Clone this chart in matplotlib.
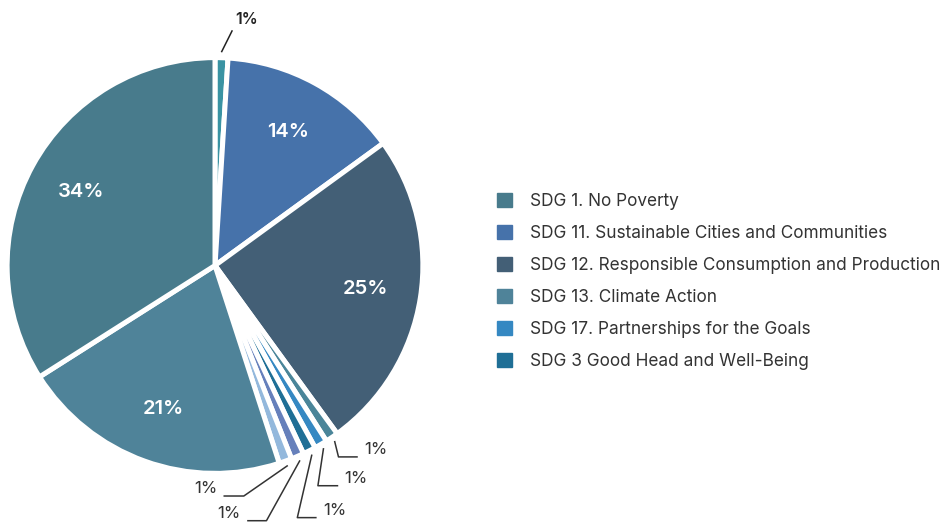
import numpy as np
import matplotlib.pyplot as plt

plt.rcParams['font.family'] = ['Inter', 'DejaVu Sans']

# slices, clockwise from the top
values = [1, 14, 25, 1, 1, 1, 1, 1, 21, 34]
colors = ['#3A93A3', '#4672AA', '#435F76', '#4A8599', '#3588C2',
          '#1F6F96', '#6680BB', '#93B8DC', '#4F8399', '#487B8C']

# legend entries and the slice each one refers to
legend_labels = ['SDG 1. No Poverty',
                 'SDG 11. Sustainable Cities and Communities',
                 'SDG 12. Responsible Consumption and Production',
                 'SDG 13. Climate Action',
                 'SDG 17. Partnerships for the Goals',
                 'SDG 3 Good Head and Well-Being']
legend_slices = [9, 1, 2, 8, 4, 5]

fig = plt.figure(figsize=(9.4, 5.31), dpi=100)
ax = fig.add_axes([-50 / 940, 0, 530 / 940, 1])

wedges, _ = ax.pie(values, colors=colors, startangle=90, counterclock=False,
                   radius=1.01,
                   wedgeprops=dict(edgecolor='white', linewidth=3.6))
ax.set_xlim(-1.287, 1.287)
ax.set_ylim(-1.29, 1.29)
ax.axis('off')


def mid_angle(w):
    return np.deg2rad((w.theta1 + w.theta2) / 2)


# percentages inside the big slices
for w, v in zip(wedges, values):
    if v < 5:
        continue
    a = mid_angle(w)
    ax.text(0.74 * np.cos(a), 0.74 * np.sin(a), f'{v}%', color='white',
            fontsize=14.5, fontweight='semibold', ha='center', va='center')

# top small slice
a = mid_angle(wedges[0])
x0, y0 = 1.04 * np.cos(a), 1.04 * np.sin(a)
ax.plot([x0, x0 + 0.05], [y0, y0 + 0.1], color='#222222', lw=1.1,
        clip_on=False)
ax.text(x0 + 0.065, y0 + 0.155, f'{values[0]}%', fontsize=11.5,
        fontweight='semibold', color='#222222', ha='left', va='center')

# leaders for the small slices at the bottom: (elbow, length of the tick)
leaders = [((0.600, -0.930), 0.09),
           ((0.500, -1.070), 0.095),
           ((0.400, -1.225), 0.09),
           ((0.250, -1.240), -0.09),
           ((0.140, -1.120), -0.095)]
for w, v, ((ex, ey), dx) in zip(wedges[3:8], values[3:8], leaders):
    a = mid_angle(w)
    x0, y0 = 1.035 * np.cos(a), 1.035 * np.sin(a)
    ax.plot([x0, ex, ex + dx], [y0, ey, ey], color='#333333', lw=1.1,
            clip_on=False)
    ha = 'left' if dx > 0 else 'right'
    ax.text(ex + dx + (0.035 if dx > 0 else -0.035), ey + 0.035, f'{v}%',
            fontsize=12, color='#333333', ha=ha, va='center')

handles = [plt.Rectangle((0, 0), 1, 1, color=colors[i]) for i in legend_slices]
fig.legend(handles, legend_labels, loc='upper left',
           bbox_to_anchor=(497 / 940, 1 - 193 / 531), frameon=False,
           fontsize=12.4, handlelength=0.88, handleheight=0.88,
           handletextpad=1.05, labelspacing=0.87, borderpad=0,
           borderaxespad=0, labelcolor='#333333')

fig.savefig('out.png', dpi=100)
